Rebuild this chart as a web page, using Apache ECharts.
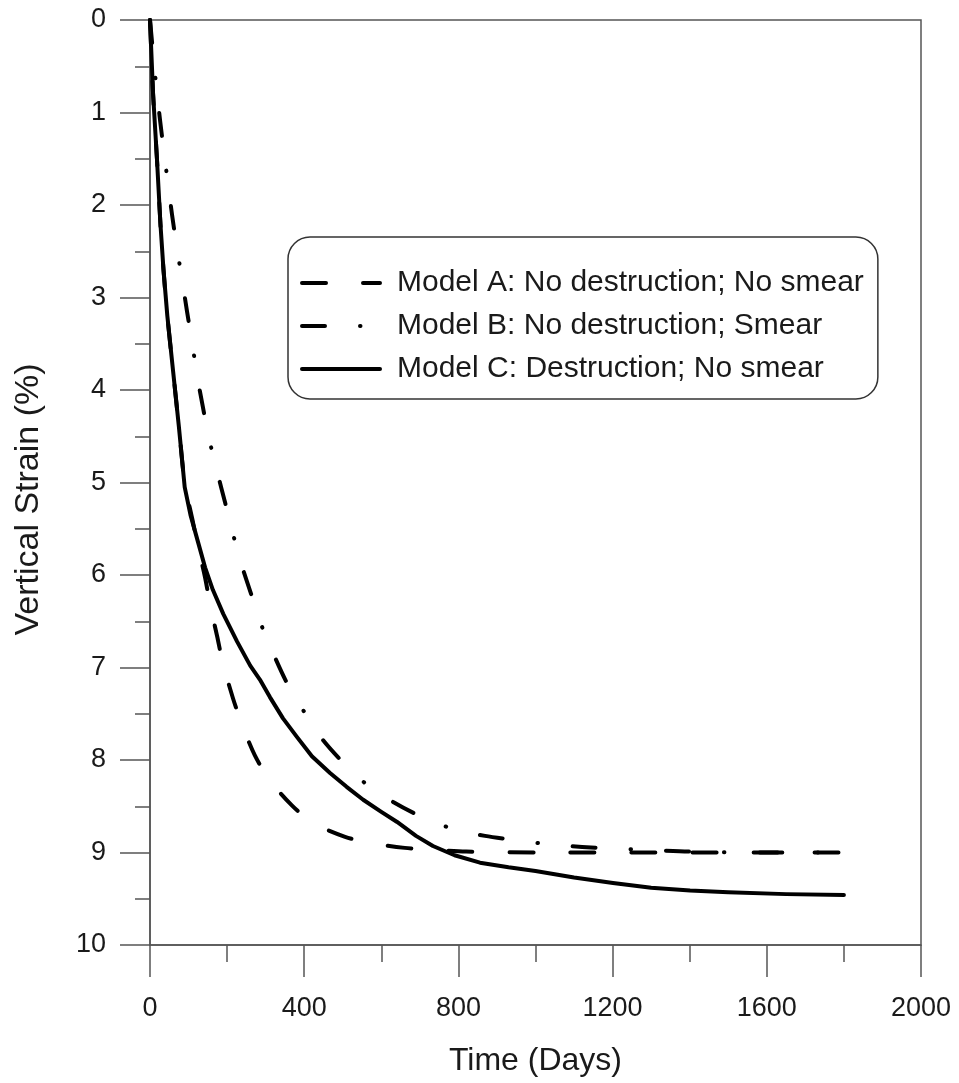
<!DOCTYPE html>
<html>
<head>
<meta charset="utf-8">
<script src="https://cdn.jsdelivr.net/npm/echarts@6/dist/echarts.min.js"></script>
<style>
  html, body { margin: 0; padding: 0; background: #fff; }
  #chart { width: 959px; height: 1083px; }
</style>
</head>
<body>
<div id="chart"></div>
<script>
// Vertical strain (%) against time (days) for three consolidation models
const seriesNames = [
  'Model A: No destruction; No smear',
  'Model B: No destruction; Smear',
  'Model C: Destruction; No smear'
];

// [time (days), vertical strain (%)]
const modelA = [
  [0, 0], [8, 0.8], [18, 1.5], [27, 2.2], [35, 2.7], [45, 3.2], [60, 3.8], [75, 4.4],
  [90, 5.0], [110, 5.4], [125, 5.7], [143, 6.03], [156, 6.32], [174, 6.66], [189, 6.95],
  [215, 7.33], [239, 7.62], [272, 7.95], [311, 8.22], [368, 8.49], [423, 8.68],
  [506, 8.83], [576, 8.9], [661, 8.95], [734, 8.97], [820, 8.99], [1000, 9.0], [1800, 9.0]
];
const modelB = [
  [0, 0], [16, 0.71], [26, 1.08], [36, 1.42], [47, 1.78], [57, 2.1], [70, 2.47],
  [83, 2.8], [96, 3.15], [109, 3.48], [122, 3.84], [137, 4.18], [153, 4.52], [174, 4.88],
  [195, 5.22], [213, 5.52], [236, 5.87], [265, 6.24], [285, 6.5], [322, 6.87],
  [358, 7.19], [397, 7.46], [446, 7.77], [506, 8.05], [558, 8.25], [633, 8.46],
  [713, 8.63], [783, 8.74], [869, 8.82], [957, 8.87], [1030, 8.91], [1121, 8.94],
  [1211, 8.96], [1284, 8.97], [1400, 8.99], [1600, 9.0], [1800, 9.0]
];
const modelC = [
  [0, 0], [8, 0.8], [18, 1.5], [27, 2.2], [35, 2.7], [45, 3.2], [60, 3.8], [75, 4.4],
  [90, 5.05], [105, 5.35], [125, 5.65], [143, 5.92], [163, 6.16], [190, 6.42], [226, 6.72],
  [260, 6.98], [285, 7.13], [311, 7.32], [345, 7.55], [381, 7.75], [420, 7.96], [467, 8.14],
  [510, 8.29], [553, 8.43], [600, 8.56], [641, 8.67], [690, 8.82], [734, 8.93], [790, 9.03],
  [856, 9.11], [930, 9.16], [1000, 9.2], [1100, 9.27], [1201, 9.33], [1300, 9.38],
  [1401, 9.41], [1500, 9.43], [1650, 9.45], [1800, 9.46]
];

const xTicks = { min: 0, max: 2000, step: 400 };
const yTicks = { min: 0, max: 10, step: 1 };

const FONT = 'Liberation Sans, Arial, sans-serif';
const AXIS_COLOR = '#555';
const TEXT_COLOR = '#1a1a1a';

const chart = echarts.init(document.getElementById('chart'), null, { renderer: 'canvas' });

function lineSeries(name, data, dash) {
  return {
    name: name,
    type: 'line',
    data: data,
    showSymbol: false,
    symbol: 'none',
    smooth: dash ? 0.3 : false,
    lineStyle: {
      color: '#000',
      width: 4,
      type: dash || 'solid',
      cap: 'round',
      join: 'round'
    },
    itemStyle: { color: '#000' },
    emphasis: { disabled: true },
    z: 3
  };
}

const plainNumber = v => String(v);

chart.setOption({
  animation: false,
  backgroundColor: '#fff',
  grid: {
    left: 150, right: 38, top: 20, bottom: 138,
    show: true, borderColor: AXIS_COLOR, borderWidth: 1.5, backgroundColor: 'transparent'
  },
  legend: {
    data: seriesNames,
    orient: 'vertical',
    left: 288,
    top: 237,
    padding: [31, 14, 15, 12],
    itemGap: 13,
    itemWidth: 78,
    itemHeight: 14,
    borderColor: '#333',
    borderWidth: 1.5,
    borderRadius: 22,
    backgroundColor: '#fff',
    selectedMode: false,
    itemStyle: { opacity: 0 },
    lineStyle: { width: 4 },
    textStyle: {
      fontFamily: FONT, fontSize: 30, color: TEXT_COLOR,
      padding: [0, 0, 0, 12]
    }
  },
  xAxis: {
    type: 'value',
    min: xTicks.min, max: xTicks.max, interval: xTicks.step,
    name: 'Time (Days)',
    nameLocation: 'middle',
    nameGap: 100,
    nameTextStyle: { fontFamily: FONT, fontSize: 32, color: TEXT_COLOR },
    axisLine: { show: true, onZero: false, lineStyle: { color: AXIS_COLOR, width: 1.5 } },
    axisTick: { show: true, inside: false, length: 32, lineStyle: { color: AXIS_COLOR, width: 1.5 } },
    minorTick: { show: true, splitNumber: 2, length: 17, lineStyle: { color: AXIS_COLOR, width: 1.5 } },
    axisLabel: { margin: 50, fontFamily: FONT, fontSize: 27, color: TEXT_COLOR, formatter: plainNumber },
    splitLine: { show: false }
  },
  yAxis: {
    type: 'value',
    inverse: true,
    min: yTicks.min, max: yTicks.max, interval: yTicks.step,
    name: 'Vertical Strain (%)',
    nameLocation: 'middle',
    nameGap: 104,
    nameTextStyle: { fontFamily: FONT, fontSize: 34, color: TEXT_COLOR, padding: [0, 34, 0, 0] },
    axisLine: { show: true, onZero: false, lineStyle: { color: AXIS_COLOR, width: 1.5 } },
    axisTick: { show: true, inside: false, length: 30, lineStyle: { color: AXIS_COLOR, width: 1.5 } },
    minorTick: { show: true, splitNumber: 2, length: 15, lineStyle: { color: AXIS_COLOR, width: 1.5 } },
    axisLabel: { margin: 44, fontFamily: FONT, fontSize: 27, color: TEXT_COLOR, formatter: plainNumber },
    splitLine: { show: false }
  },
  series: [
    lineSeries(seriesNames[0], modelA, [24, 37]),
    lineSeries(seriesNames[1], modelB, [23, 35, 0.5, 35]),
    lineSeries(seriesNames[2], modelC, null)
  ]
});
</script>
</body>
</html>
